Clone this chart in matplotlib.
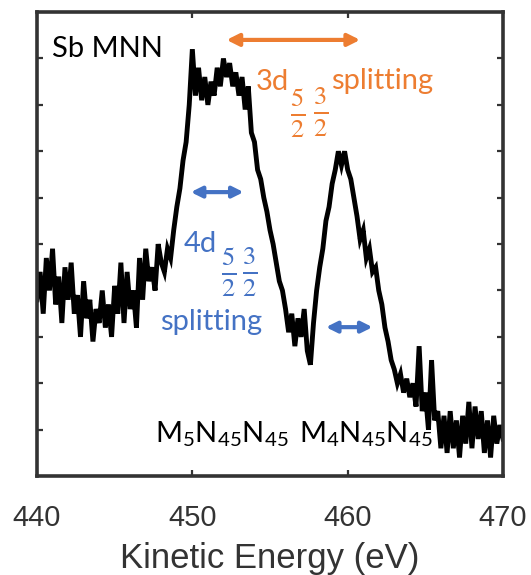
import numpy as np
import matplotlib
matplotlib.use("Agg")
import matplotlib.pyplot as plt

# kinetic energy grid (eV) and intensity, 0.2 eV steps
energy = np.round(np.arange(440.0, 470.01, 0.2), 1)
intensity = [
    38, 44, 35, 47, 40,   # 440
    49, 37, 43, 33, 45,   # 441
    38, 46, 35, 39, 30,   # 442
    42, 34, 38, 29, 36,   # 443
    33, 40, 32, 37, 30,   # 444
    41, 35, 46, 33, 44,   # 445
    36, 40, 32, 47, 38,   # 446
    49, 42, 45, 40, 50,   # 447
    46, 44, 49, 47, 53,   # 448
    58, 62, 68, 72, 80,   # 449
    92, 82, 88, 81, 86,   # 450
    80, 85, 82, 88, 84,   # 451
    90, 86, 89, 84, 87,   # 452
    82, 86, 79, 84, 74,   # 453
    72, 66, 64, 60, 57,   # 454
    53, 50, 46, 42, 40,   # 455
    36, 31, 35, 28, 34,   # 456
    30, 36, 27, 24, 33,   # 457
    40, 45, 49, 55, 58,   # 458
    63, 66, 70, 67, 70,   # 459
    66, 64, 60, 56, 51,   # 460
    53, 47, 49, 44, 45,   # 461
    40, 37, 32, 29, 25,   # 462
    23, 20, 22, 18, 21,   # 463
    17, 20, 15, 28, 14,   # 464
    18, 10, 25, 12, 14,   # 465
    6, 13, 5, 14, 6,      # 466
    12, 4, 13, 7, 16,     # 467
    6, 15, 8, 14, 5,      # 468
    12, 4, 13, 7, 11,     # 469
    8,                    # 470
]

x_ticks = [440, 450, 460, 470]
y_ticks = [10, 20, 30, 40, 50, 60, 70, 80, 90]

orange = "#ED7D31"
blue = "#4472C4"

plt.rcParams["mathtext.fontset"] = "custom"
plt.rcParams["mathtext.rm"] = "Lato"
plt.rcParams["mathtext.it"] = "Lato:italic"

fig = plt.figure(figsize=(5.31, 5.75), dpi=100)
ax = fig.add_axes([0.0697, 0.172, 0.8776, 0.807])

ax.plot(energy, intensity, color="black", lw=3.5, solid_joinstyle="miter")

ax.set_xlim(440, 470)
ax.set_ylim(0, 100)
ax.set_xticks(x_ticks)
ax.set_yticks(y_ticks)
ax.set_yticklabels([])
ax.tick_params(direction="in", length=4, width=1.6, color="#333333",
               top=True, right=True, labelsize=21, pad=20, labelcolor="#333333")
for lab in ax.get_xticklabels():
    lab.set_family("Liberation Sans")
for s in ax.spines.values():
    s.set_linewidth(2.6)
    s.set_color("#333333")

ax.set_xlabel("Kinetic Energy (eV)", fontsize=25, family="Liberation Sans",
              color="#333333", labelpad=7)

txt = dict(fontsize=21, family="Lato", va="baseline")

# annotations
ax.text(440.97, 90.3, "Sb MNN", **txt)

ax.annotate("", xy=(452.2, 94.0), xytext=(460.8, 94.0),
            arrowprops=dict(arrowstyle="<|-|>", color=orange, lw=3, mutation_scale=18,
                            shrinkA=0, shrinkB=0))
ax.annotate("", xy=(449.9, 61.2), xytext=(453.3, 61.2),
            arrowprops=dict(arrowstyle="<|-|>", color=blue, lw=3, mutation_scale=16,
                            shrinkA=0, shrinkB=0))
ax.annotate("", xy=(458.6, 32.1), xytext=(461.6, 32.1),
            arrowprops=dict(arrowstyle="<|-|>", color=blue, lw=3, mutation_scale=16,
                            shrinkA=0, shrinkB=0))

frac = dict(fontsize=27, ha="center", va="center", math_fontfamily="stix")

ax.text(454.06, 83.2, "3d", color=orange, **txt)
ax.text(456.8, 78.4, r"$\frac{5}{2}$", color=orange, **frac)
ax.text(458.26, 78.4, r"$\frac{3}{2}$", color=orange, **frac)
ax.text(458.9, 83.4, "splitting", color=orange, **txt)

ax.text(449.42, 48.3, "4d", color=blue, **txt)
ax.text(452.3, 44.0, r"$\frac{5}{2}$", color=blue, **frac)
ax.text(453.68, 44.0, r"$\frac{3}{2}$", color=blue, **frac)
ax.text(447.94, 31.5, "splitting", color=blue, **txt)

ax.text(447.6, 7.3, r"M$_5$N$_{45}$N$_{45}$", **txt)
ax.text(456.84, 7.3, r"M$_4$N$_{45}$N$_{45}$", **txt)

fig.savefig("out.png", dpi=100)
